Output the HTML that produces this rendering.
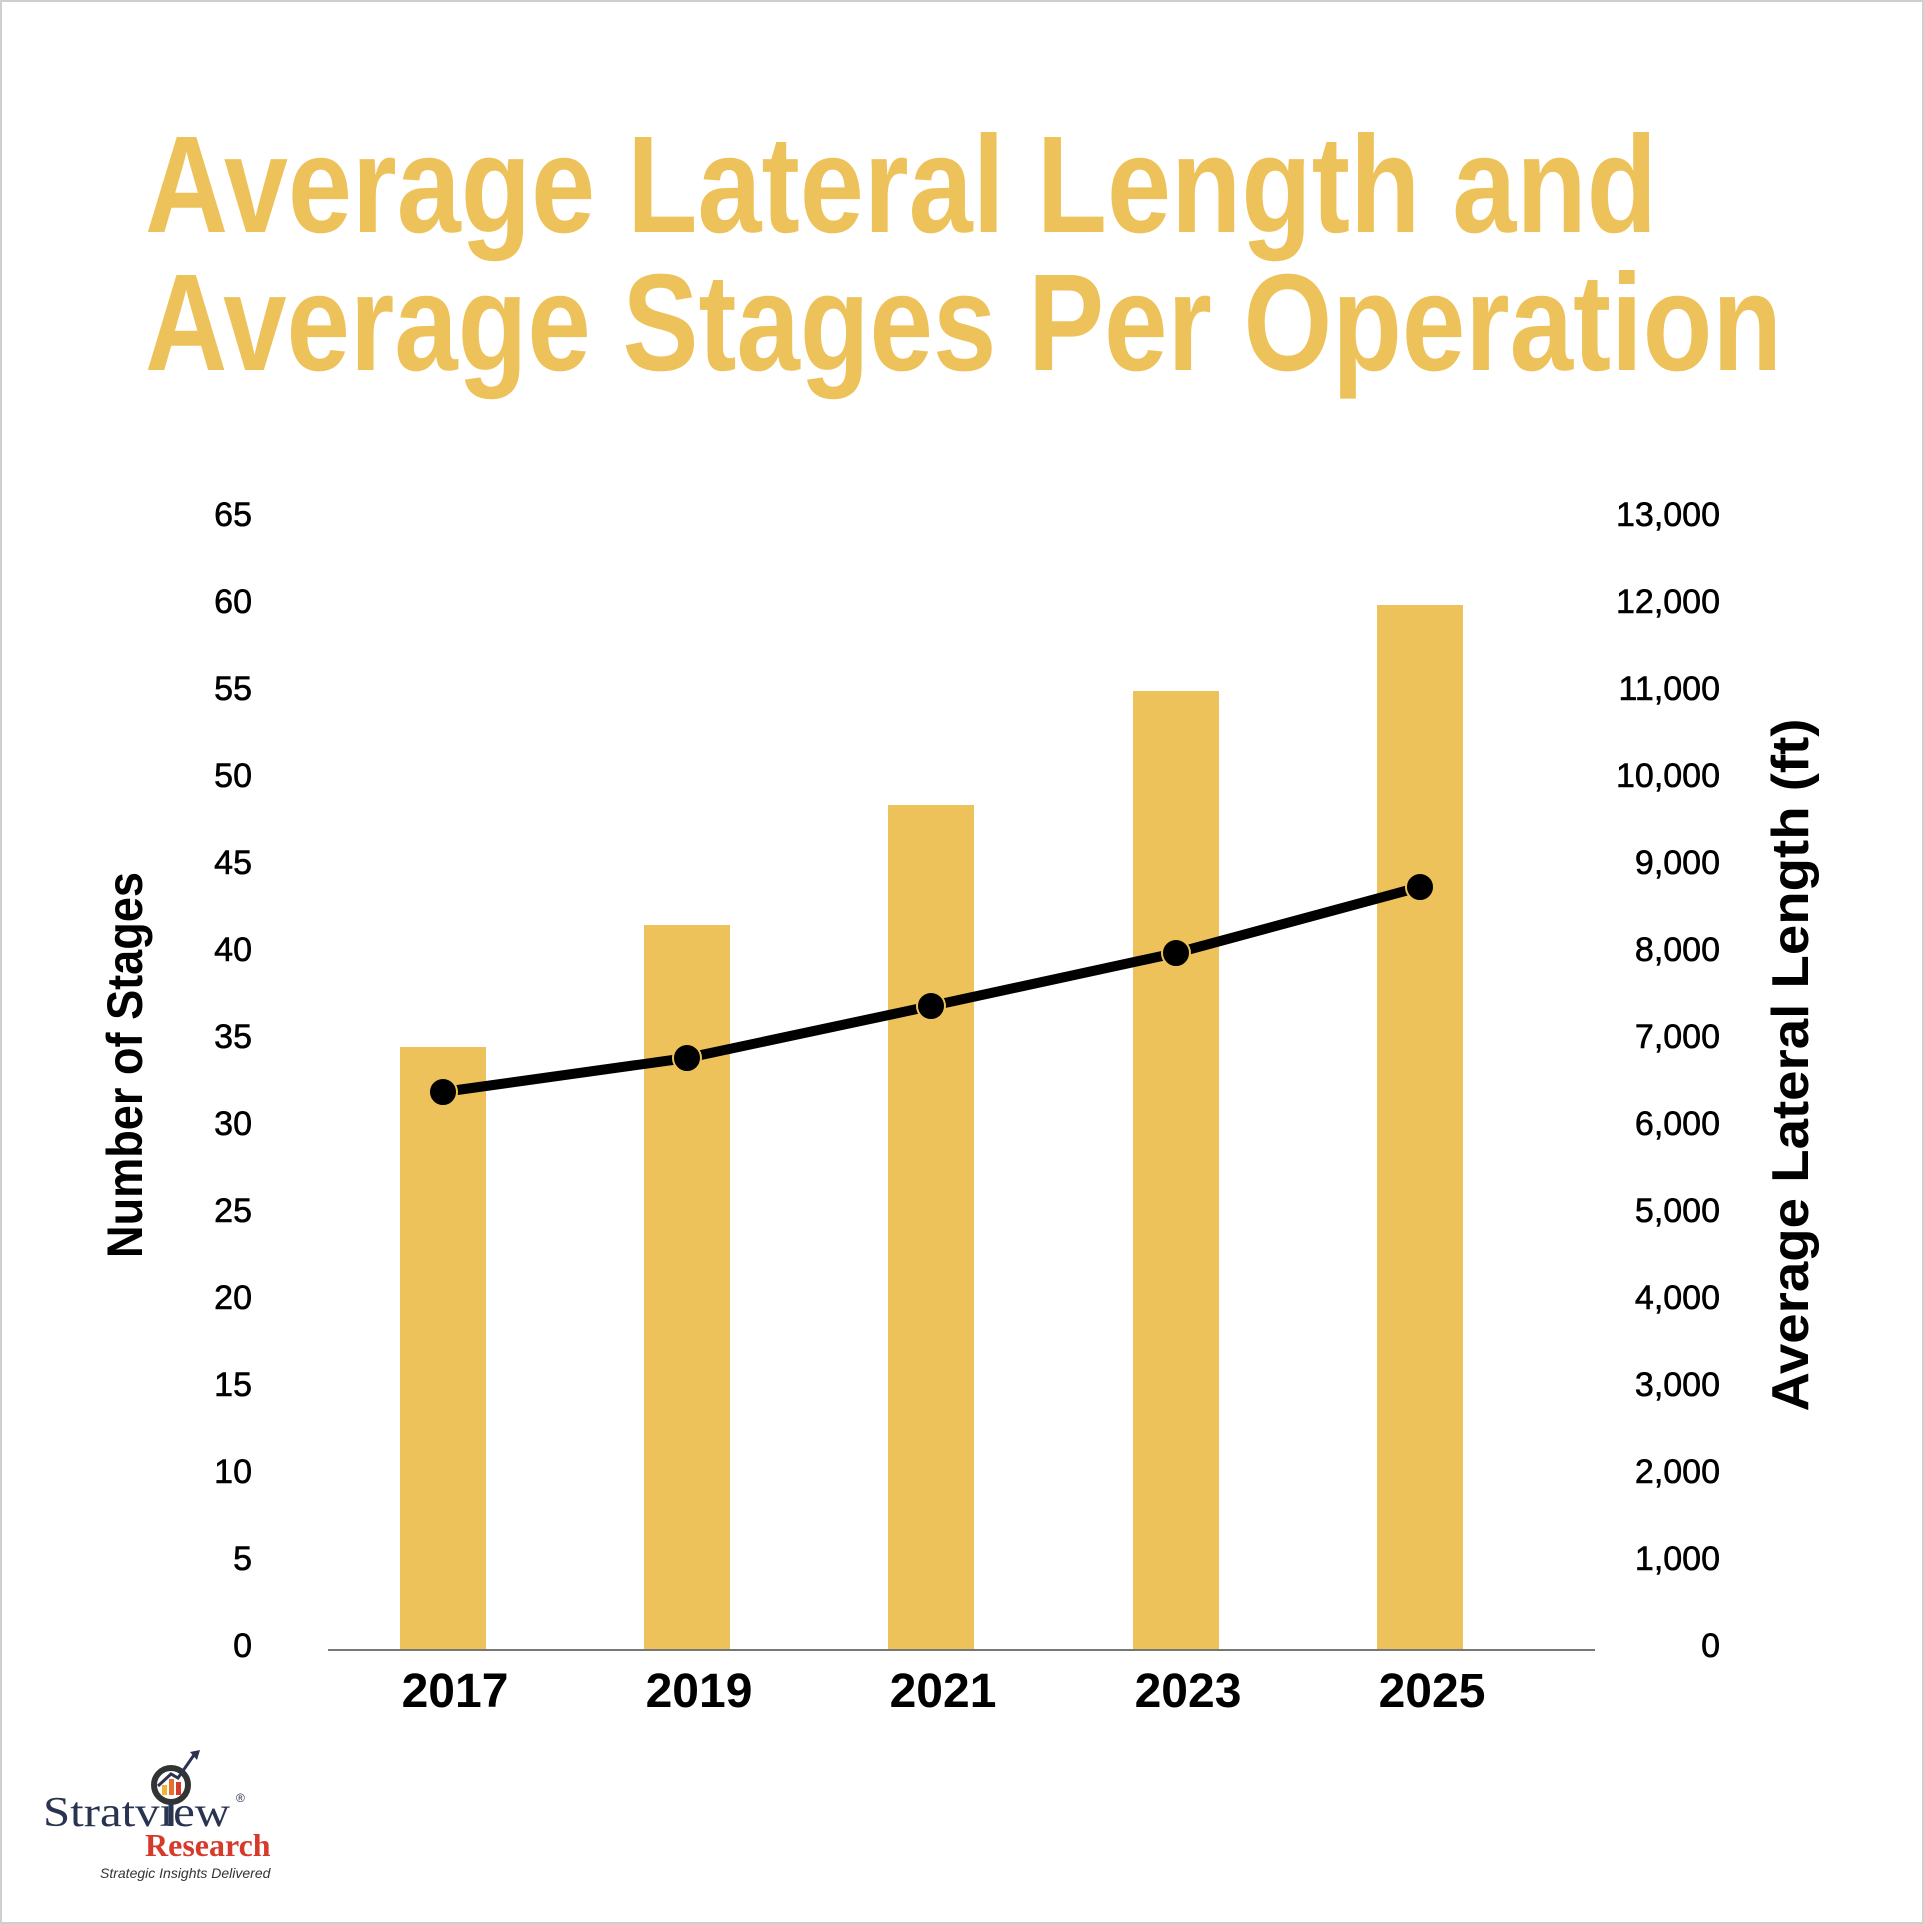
<!DOCTYPE html>
<html><head><meta charset="utf-8"><style>
html,body{margin:0;padding:0;background:#fff}
svg{display:block}
</style></head><body>
<svg width="1924" height="1924" viewBox="0 0 1924 1924" xmlns="http://www.w3.org/2000/svg">
<rect x="1" y="1" width="1922" height="1922" fill="#fff" stroke="#cfcfcf" stroke-width="2"/>
<g font-family="'Liberation Sans Narrow','Liberation Sans',sans-serif" font-weight="bold" fill="#EEC25A" font-size="138">
<text x="145" y="232" textLength="1512" lengthAdjust="spacingAndGlyphs">Average Lateral Length and</text>
<text x="145" y="370" textLength="1637" lengthAdjust="spacingAndGlyphs">Average Stages Per Operation</text>
</g>
<g fill="#EEC25A">
<rect x="400" y="1047" width="86" height="603"/>
<rect x="644" y="925" width="86" height="725"/>
<rect x="888" y="805" width="86" height="845"/>
<rect x="1133" y="691" width="86" height="959"/>
<rect x="1377" y="605" width="86" height="1045"/>
</g>
<line x1="328" y1="1650" x2="1595" y2="1650" stroke="#777" stroke-width="2"/>
<polyline points="443,1092 687,1058 931,1006 1176,953 1420,887" fill="none" stroke="#000" stroke-width="10" stroke-linejoin="round"/>
<g fill="#000" stroke="#EEC25A" stroke-width="2">
<circle cx="443" cy="1092" r="14"/><circle cx="687" cy="1058" r="14"/><circle cx="931" cy="1006" r="14"/><circle cx="1176" cy="953" r="14"/><circle cx="1420" cy="887" r="14"/>
</g>
<g font-family="'Liberation Sans',sans-serif" font-size="34" fill="#000" text-anchor="end" stroke="#000" stroke-width="0.6">
<text x="252" y="526">65</text><text x="252" y="613">60</text><text x="252" y="700">55</text><text x="252" y="787">50</text><text x="252" y="874">45</text><text x="252" y="961">40</text><text x="252" y="1048">35</text><text x="252" y="1135">30</text><text x="252" y="1222">25</text><text x="252" y="1309">20</text><text x="252" y="1396">15</text><text x="252" y="1483">10</text><text x="252" y="1570">5</text><text x="252" y="1657">0</text>
</g>
<g font-family="'Liberation Sans',sans-serif" font-size="34" fill="#000" text-anchor="end" stroke="#000" stroke-width="0.6">
<text x="1720" y="526">13,000</text><text x="1720" y="613">12,000</text><text x="1720" y="700">11,000</text><text x="1720" y="787">10,000</text><text x="1720" y="874">9,000</text><text x="1720" y="961">8,000</text><text x="1720" y="1048">7,000</text><text x="1720" y="1135">6,000</text><text x="1720" y="1222">5,000</text><text x="1720" y="1309">4,000</text><text x="1720" y="1396">3,000</text><text x="1720" y="1483">2,000</text><text x="1720" y="1570">1,000</text><text x="1720" y="1657">0</text>
</g>
<g font-family="'Liberation Sans',sans-serif" font-weight="bold" font-size="48" fill="#000" text-anchor="middle">
<text x="455" y="1707">2017</text><text x="699" y="1707">2019</text><text x="943" y="1707">2021</text><text x="1188" y="1707">2023</text><text x="1432" y="1707">2025</text>
</g>
<text transform="translate(142,1065) rotate(-90)" font-family="'Liberation Sans Narrow','Liberation Sans',sans-serif" font-weight="bold" font-size="50" text-anchor="middle" textLength="386" lengthAdjust="spacingAndGlyphs">Number of Stages</text>
<text transform="translate(1808,1065) rotate(-90)" font-family="'Liberation Sans',sans-serif" font-weight="bold" font-size="52" text-anchor="middle" textLength="693" lengthAdjust="spacingAndGlyphs">Average Lateral Length (ft)</text>
<g>
<text x="43" y="1826" font-family="'Liberation Serif',serif" font-size="42" fill="#2a3350" textLength="187" lengthAdjust="spacingAndGlyphs">Stratview</text>
<circle cx="171" cy="1785" r="17" fill="#fff" stroke="#333" stroke-width="6"/>
<rect x="162" y="1785" width="5" height="10" fill="#f2b33a"/><rect x="169" y="1779" width="5" height="16" fill="#e8702a"/><rect x="176" y="1782" width="5" height="13" fill="#d63a2b"/>
<line x1="171" y1="1802" x2="171" y2="1826" stroke="#2a3350" stroke-width="5"/>
<polyline points="158,1786 171,1774 178,1778 196,1752" fill="none" stroke="#2a3350" stroke-width="3"/>
<polygon points="200,1750 190,1752 197,1760" fill="#2a3350"/>
<text x="236" y="1802" font-family="'Liberation Sans',sans-serif" font-size="12" fill="#2a3350">®</text>
<text x="145" y="1856" font-family="'Liberation Serif',serif" font-weight="bold" font-size="32" fill="#d63a2b">Research</text>
<text x="100" y="1878" font-family="'Liberation Sans',sans-serif" font-style="italic" font-size="14" fill="#333">Strategic Insights Delivered</text>
</g>
</svg>
</body></html>
